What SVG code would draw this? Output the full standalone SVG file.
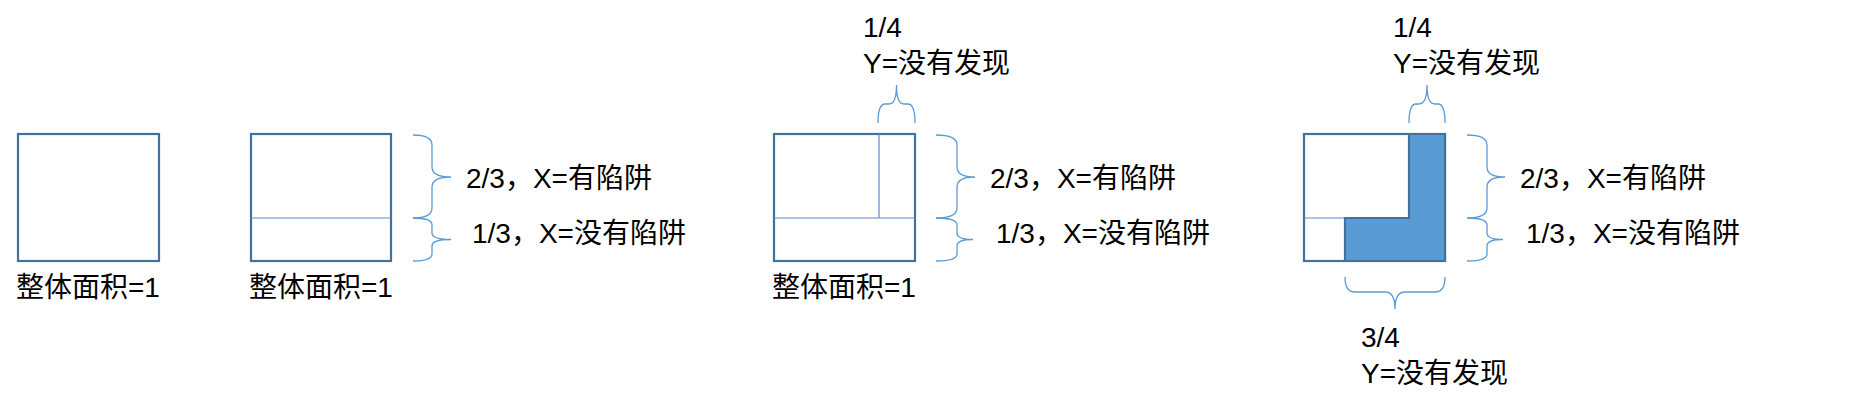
<svg xmlns="http://www.w3.org/2000/svg" width="1873" height="408" viewBox="0 0 1873 408">
<style>
.box{fill:#fff;stroke:#41719C;stroke-width:2.2}
.div{fill:none;stroke:#5B8DC4;stroke-width:1.2}
.brace{fill:none;stroke:#5B9BD5;stroke-width:1.3}
.fill{fill:#5B9BD5;stroke:#41719C;stroke-width:2.2}
text{font-family:"Liberation Sans","Noto Sans CJK SC",sans-serif;font-size:28px;fill:#000}
</style>
<rect width="1873" height="408" fill="#fff"/>
<g id="node1">
<rect class="box" x="18" y="134" width="141" height="127"/>
<text x="16" y="297">整体面积=1</text>
</g>
<g id="node2">
<rect class="box" x="251" y="134" width="140" height="127"/>
<line class="div" x1="251" y1="218" x2="391" y2="218"/>
<text x="249" y="297">整体面积=1</text>
<text x="466" y="188">2/3，X=有陷阱</text>
<text x="472" y="243">1/3，X=没有陷阱</text>
</g>
<g id="node3">
<rect class="box" x="774" y="134" width="141" height="127"/>
<line class="div" x1="774" y1="218" x2="915" y2="218"/>
<line class="div" x1="879" y1="134" x2="879" y2="218"/>
<text x="772" y="297">整体面积=1</text>
<text x="863" y="37">1/4</text>
<text x="863" y="73">Y=没有发现</text>
<text x="990" y="188">2/3，X=有陷阱</text>
<text x="996" y="243">1/3，X=没有陷阱</text>
</g>
<g id="node4">
<rect class="box" x="1304" y="134" width="141" height="127"/>
<line class="div" x1="1304" y1="218" x2="1345" y2="218"/>
<path class="fill" d="M1409,134 L1445,134 L1445,261 L1345,261 L1345,218 L1409,218 Z"/>
<text x="1393" y="37">1/4</text>
<text x="1393" y="73">Y=没有发现</text>
<text x="1520" y="188">2/3，X=有陷阱</text>
<text x="1526" y="243">1/3，X=没有陷阱</text>
<text x="1361" y="347">3/4</text>
<text x="1361" y="383">Y=没有发现</text>
</g>
<g id="connectors">
<path class="brace" d="M413,135 Q432,135 432,145 L432,167 Q432,177 451,177 Q432,177 432,187 L432,208 Q432,218 413,218"/>
<path class="brace" d="M413,218 Q432,218 432,225 L432,233 Q432,239.5 451,239.5 Q432,239.5 432,246 L432,254 Q432,261 413,261"/>
<path class="brace" d="M936,135 Q957,135 957,145 L957,167 Q957,177 975,177 Q957,177 957,187 L957,208 Q957,218 936,218"/>
<path class="brace" d="M936,218 Q957,218 957,225 L957,233 Q957,239.5 973,239.5 Q957,239.5 957,246 L957,254 Q957,261 936,261"/>
<path class="brace" d="M878,123 Q878,104 885,104 L889,104 Q896.5,104 896.5,85 Q896.5,104 904,104 L908,104 Q915,104 915,123"/>
<path class="brace" d="M1467,135 Q1487,135 1487,145 L1487,167 Q1487,177 1505,177 Q1487,177 1487,187 L1487,208 Q1487,218 1467,218"/>
<path class="brace" d="M1467,218 Q1487,218 1487,225 L1487,233 Q1487,239.5 1503,239.5 Q1487,239.5 1487,246 L1487,254 Q1487,261 1467,261"/>
<path class="brace" d="M1409,123 Q1409,104 1416,104 L1419,104 Q1427,104 1427,85 Q1427,104 1435,104 L1438,104 Q1445,104 1445,123"/>
<path class="brace" d="M1345,277 Q1345,292 1355,292 L1385,292 Q1395,292 1395,309 Q1395,292 1405,292 L1435,292 Q1445,292 1445,277"/>
</g>
</svg>
